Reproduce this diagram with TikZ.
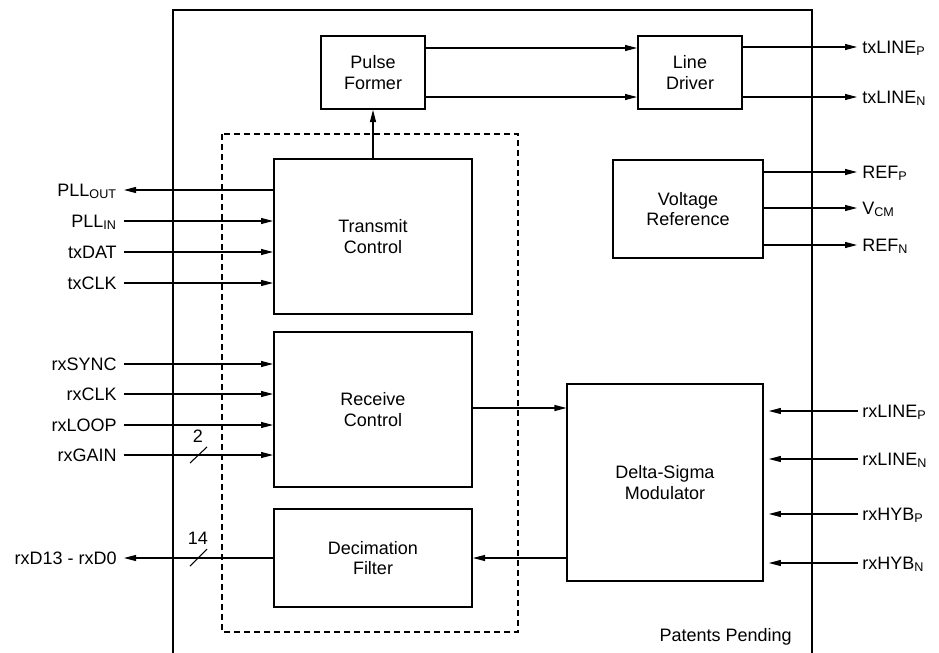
\documentclass[tikz,border=0pt]{standalone}
\usepackage{fontspec}
\setmainfont{Liberation Sans}
\usetikzlibrary{arrows.meta}
\begin{document}
\begin{tikzpicture}[x=0.75pt,y=-0.75pt,
  font=\fontsize{13.5}{15.5}\selectfont,
  blk/.style={draw,line width=1.5pt,rectangle,align=center,inner sep=0pt},
  thinblk/.style={draw,line width=0.8pt,rectangle,align=center,inner sep=0pt},
  arr/.style={line width=0.8pt,-{Triangle[length=9pt,width=4.5pt]}},
  wire/.style={line width=0.8pt},
  lbl/.style={inner sep=0pt},
  bus/.style={line width=0.8pt}]
\useasboundingbox (0,0) rectangle (939,653);
% outer frame
\draw[line width=1.5pt] (173,653) -- (173,10) -- (812,10) -- (812,653);
% dashed group
\draw[line width=0.8pt,dash pattern=on 4.5pt off 3pt] (222,134) rectangle (518,632);
% blocks
\node[blk,minimum width=78pt,minimum height=54.75pt] (PF) at (373,72.5) {Pulse\\Former};
\node[blk,minimum width=78pt,minimum height=54.75pt] (LD) at (690,72.5) {Line\\Driver};
\node[blk,minimum width=112.5pt,minimum height=73.5pt] (VR) at (688,209) {Voltage\\Reference};
\node[blk,minimum width=148.5pt,minimum height=116.25pt] (TC) at (373,236.5) {Transmit\\Control};
\node[blk,minimum width=148.5pt,minimum height=116.25pt] (RC) at (373,409.5) {Receive\\Control};
\node[blk,minimum width=148.5pt,minimum height=73.5pt] (DF) at (373,558) {Decimation\\Filter};
\node[thinblk,minimum width=147pt,minimum height=147.75pt] (DS) at (665,482.5) {Delta-Sigma\\Modulator};
\node[lbl,anchor=south east] (pat) at (792,645) {Patents Pending};
% internal connectors
\draw[arr] (TC.north) -- (PF.south);
\draw[arr] (PF.east |- 0,48) -- (LD.west |- 0,48);
\draw[arr] (PF.east |- 0,97) -- (LD.west |- 0,97);
\draw[arr] (RC.east |- 0,408) -- (DS.west |- 0,408);
\draw[arr] (DS.west |- 0,558) -- (DF.east |- 0,558);
% left side coordinates & labels
\coordinate (pllout) at (124,190);
\coordinate (pllin) at (124,221);
\coordinate (txdat) at (124,252);
\coordinate (txclk) at (124,283);
\coordinate (rxsync) at (124,364);
\coordinate (rxclk) at (124,394);
\coordinate (rxloop) at (124,425);
\coordinate (rxgain) at (124,455);
\coordinate (rxd) at (124,558);
\node[lbl,anchor=base east] (Lpllout) at (117,196) {PLL\textsubscript{OUT}};
\node[lbl,anchor=base east] (Lpllin) at (117,227) {PLL\textsubscript{IN}};
\node[lbl,anchor=base east] (Ltxdat) at (117,258) {txDAT};
\node[lbl,anchor=base east] (Ltxclk) at (117,289) {txCLK};
\node[lbl,anchor=base east] (Lrxsync) at (117,370) {rxSYNC};
\node[lbl,anchor=base east] (Lrxclk) at (117,400) {rxCLK};
\node[lbl,anchor=base east] (Lrxloop) at (117,431) {rxLOOP};
\node[lbl,anchor=base east] (Lrxgain) at (117,461) {rxGAIN};
\node[lbl,anchor=base east] (Lrxd) at (117,564) {rxD13 - rxD0};
\draw[arr] (pllout -| TC.west) -- (pllout);
\draw[arr] (pllin) -- (pllin -| TC.west);
\draw[arr] (txdat) -- (txdat -| TC.west);
\draw[arr] (txclk) -- (txclk -| TC.west);
\draw[arr] (rxsync) -- (rxsync -| RC.west);
\draw[arr] (rxclk) -- (rxclk -| RC.west);
\draw[arr] (rxloop) -- (rxloop -| RC.west);
\draw[arr] (rxgain) -- (rxgain -| RC.west);
\draw[arr] (rxd -| DF.west) -- (rxd);
% bus marks
\draw[bus] (190,463) -- (207,447);
\node[lbl] (n2) at (198,436) {2};
\draw[bus] (190,566) -- (207,549);
\node[lbl] (n14) at (198,538) {14};
% right side outputs
\coordinate (txp) at (857,47);
\coordinate (txn) at (857,97);
\coordinate (refp) at (857,172);
\coordinate (vcm) at (857,208);
\coordinate (refn) at (857,245);
\draw[arr] (txp -| LD.east) -- (txp);
\draw[arr] (txn -| LD.east) -- (txn);
\draw[arr] (refp -| VR.east) -- (refp);
\draw[arr] (vcm -| VR.east) -- (vcm);
\draw[arr] (refn -| VR.east) -- (refn);
\node[lbl,anchor=base west] (Ltxp) at (862,53) {txLINE\textsubscript{P}};
\node[lbl,anchor=base west] (Ltxn) at (862,103) {txLINE\textsubscript{N}};
\node[lbl,anchor=base west] (Lrefp) at (862,178) {REF\textsubscript{P}};
\node[lbl,anchor=base west] (Lvcm) at (862,214) {V\textsubscript{CM}};
\node[lbl,anchor=base west] (Lrefn) at (862,251) {REF\textsubscript{N}};
% right side inputs
\coordinate (rlp) at (858,411);
\coordinate (rln) at (858,459);
\coordinate (rhp) at (858,514);
\coordinate (rhn) at (858,563);
\draw[arr] (rlp) -- ([xshift=4]rlp -| DS.east);
\draw[arr] (rln) -- ([xshift=4]rln -| DS.east);
\draw[arr] (rhp) -- ([xshift=4]rhp -| DS.east);
\draw[arr] (rhn) -- ([xshift=4]rhn -| DS.east);
\node[lbl,anchor=base west] (Lrlp) at (862,417) {rxLINE\textsubscript{P}};
\node[lbl,anchor=base west] (Lrln) at (862,465) {rxLINE\textsubscript{N}};
\node[lbl,anchor=base west] (Lrhp) at (862,520) {rxHYB\textsubscript{P}};
\node[lbl,anchor=base west] (Lrhn) at (862,569) {rxHYB\textsubscript{N}};
\end{tikzpicture}
\end{document}
